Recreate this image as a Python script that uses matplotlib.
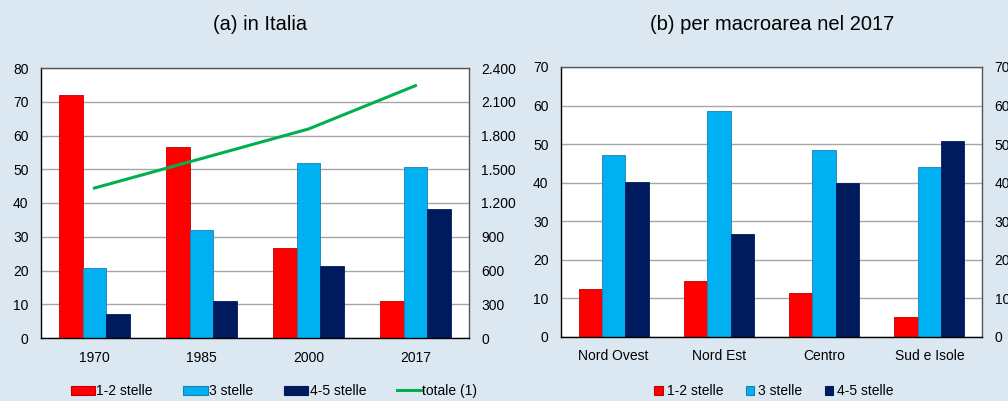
import matplotlib
matplotlib.use("Agg")
import matplotlib.pyplot as plt
from matplotlib.lines import Line2D
from matplotlib.patches import Patch
import numpy as np

plt.rcParams['font.family'] = ['Liberation Sans', 'DejaVu Sans']

# ---- data ----
years = ["1970", "1985", "2000", "2017"]
a_12 = [71.9, 56.7, 26.6, 11.1]
a_3 = [20.7, 32.0, 51.9, 50.6]
a_45 = [7.2, 11.1, 21.4, 38.3]
a_tot = [1333, 1595, 1858, 2243]

areas = ["Nord Ovest", "Nord Est", "Centro", "Sud e Isole"]
b_12 = [12.5, 14.6, 11.4, 5.3]
b_3 = [47.2, 58.6, 48.6, 44.1]
b_45 = [40.2, 26.8, 40.0, 50.9]

left_ticks = [0, 10, 20, 30, 40, 50, 60, 70, 80]
right_ticks = [0, 300, 600, 900, 1200, 1500, 1800, 2100, 2400]
right_labels = ["0", "300", "600", "900", "1.200", "1.500", "1.800", "2.100", "2.400"]
b_ticks = [0, 10, 20, 30, 40, 50, 60, 70]

# ---- styles ----
BG = "#DCE8F1"
RED = "#FF0000"
BLUE = "#00B0F0"
NAVY = "#001A5E"
GREEN = "#00B050"
GRID = "#A6A6A6"
FS = 10

W, H = 1008, 401
fig = plt.figure(figsize=(W / 100, H / 100), dpi=100, facecolor=BG)


def px_axes(x0, y0, x1, y1):
    return fig.add_axes([x0 / W, 1 - y1 / H, (x1 - x0) / W, (y1 - y0) / H])


def style(ax):
    ax.set_facecolor("white")
    for s in ["left", "bottom"]:
        ax.spines[s].set_color("black")
        ax.spines[s].set_linewidth(1.0)
    for s in ["top", "right"]:
        ax.spines[s].set_color("#555555")
        ax.spines[s].set_linewidth(1.0)
    ax.tick_params(axis="both", length=0, labelsize=FS, colors="black")
    ax.tick_params(axis="y", pad=9)
    ax.tick_params(axis="x", pad=9)
    ax.yaxis.grid(True, color=GRID, linewidth=1.0)
    ax.set_axisbelow(True)


bw = 0.222

# ---- panel (a) ----
axa = px_axes(41, 68, 469, 338)
style(axa)
x = np.arange(len(years))
axa.bar(x - bw, a_12, bw, color=RED, edgecolor="#C00000", linewidth=0.6)
axa.bar(x, a_3, bw, color=BLUE, edgecolor="#1C80B0", linewidth=0.6)
axa.bar(x + bw, a_45, bw, color=NAVY, edgecolor=NAVY, linewidth=0.6)
axa.set_xlim(-0.5, len(years) - 0.5)
axa.set_ylim(0, 80)
axa.set_yticks(left_ticks)
axa.set_xticks(x)
axa.set_xticklabels(years)

axa2 = axa.twinx()
axa2.plot(x, a_tot, color=GREEN, linewidth=2.2)
axa2.set_ylim(0, 2400)
axa2.set_yticks(right_ticks)
axa2.set_yticklabels(right_labels)
axa2.tick_params(axis="y", length=0, labelsize=FS, pad=9)
for s in axa2.spines.values():
    s.set_visible(False)

fig.text(260 / W, 1 - 25 / H, "(a) in Italia", ha="center", va="center", fontsize=14.5)

handles_a = [
    Patch(facecolor=RED, edgecolor="#C00000", linewidth=0.8),
    Patch(facecolor=BLUE, edgecolor="#1C80B0", linewidth=0.8),
    Patch(facecolor=NAVY, edgecolor=NAVY, linewidth=0.8),
    Line2D([0], [0], color=GREEN, linewidth=2.2),
]
fig.legend(handles_a, ["1-2 stelle", "3 stelle", "4-5 stelle", "totale (1)"],
           loc="center", bbox_to_anchor=(274 / W, 1 - 391 / H), ncol=4,
           frameon=False, fontsize=FS, handlelength=1.75, handleheight=0.6,
           handletextpad=0.1, columnspacing=2.2)

# ---- panel (b) ----
axb = px_axes(561, 67, 982, 337)
style(axb)
xb = np.arange(len(areas))
axb.bar(xb - bw, b_12, bw, color=RED, edgecolor="#C00000", linewidth=0.6)
axb.bar(xb, b_3, bw, color=BLUE, edgecolor="#1C80B0", linewidth=0.6)
axb.bar(xb + bw, b_45, bw, color=NAVY, edgecolor=NAVY, linewidth=0.6)
axb.set_xlim(-0.5, len(areas) - 0.5)
axb.set_ylim(0, 70)
axb.set_yticks(b_ticks)
axb.set_xticks(xb)
axb.set_xticklabels(areas)

axb2 = axb.twinx()
axb2.set_ylim(0, 70)
axb2.set_yticks(b_ticks)
axb2.tick_params(axis="y", length=0, labelsize=FS, pad=9)
for s in axb2.spines.values():
    s.set_visible(False)

fig.text(772 / W, 1 - 25 / H, "(b) per macroarea nel 2017", ha="center", va="center", fontsize=14.5)

handles_b = [
    Patch(facecolor=RED, edgecolor="#C00000", linewidth=0.8),
    Patch(facecolor=BLUE, edgecolor="#1C80B0", linewidth=0.8),
    Patch(facecolor=NAVY, edgecolor=NAVY, linewidth=0.8),
]
fig.legend(handles_b, ["1-2 stelle", "3 stelle", "4-5 stelle"],
           loc="center", bbox_to_anchor=(774 / W, 1 - 391 / H), ncol=3,
           frameon=False, fontsize=FS, handlelength=0.6, handleheight=0.6,
           handletextpad=0.3, columnspacing=1.6)

fig.savefig("out.png", dpi=100, facecolor=BG)
